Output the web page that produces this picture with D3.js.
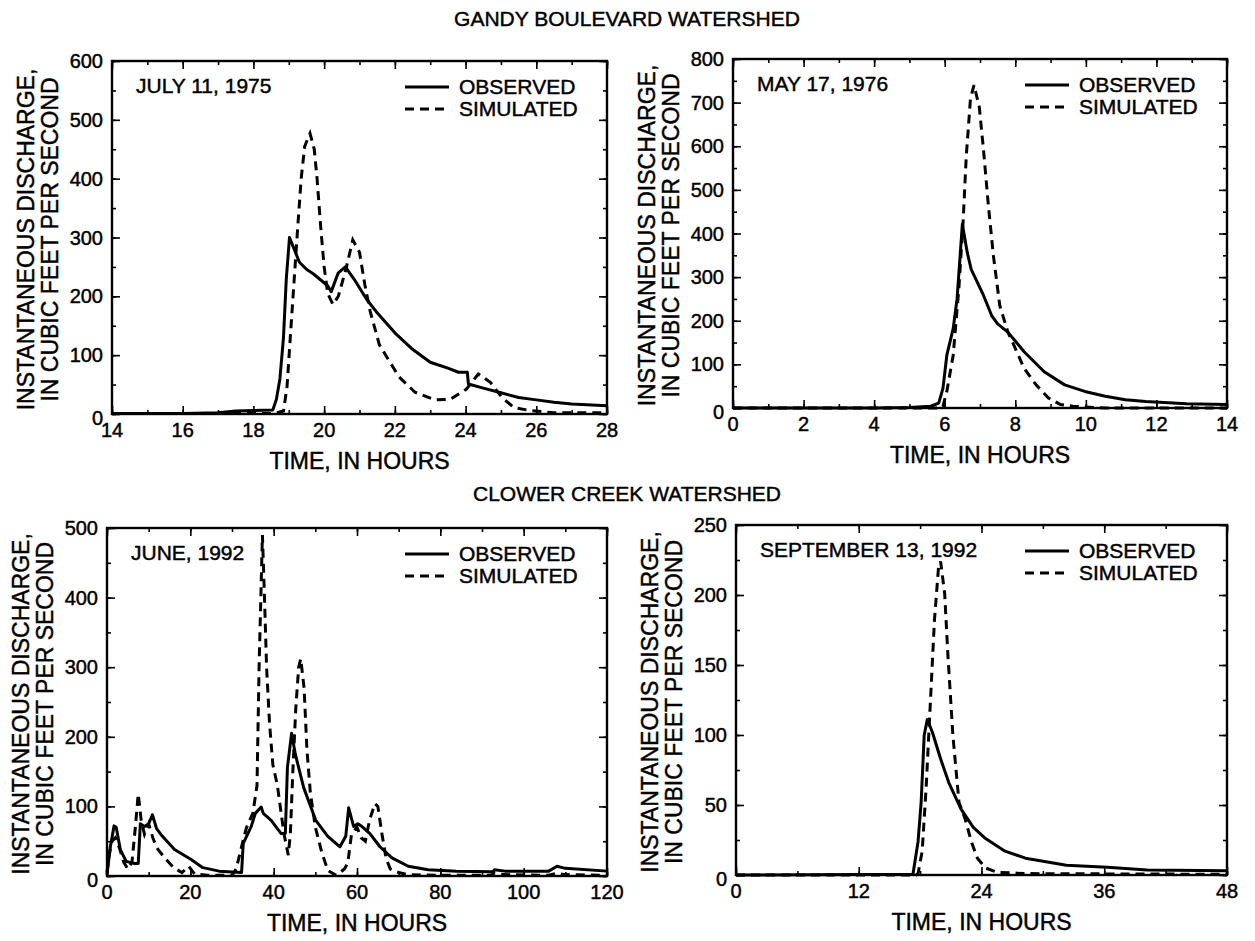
<!DOCTYPE html>
<html lang="en">
<head>
  <meta charset="UTF-8" />
  <title>Observed and simulated discharge</title>
  <script src="https://d3js.org/d3.v7.min.js"></script>
  <style>
    body { margin: 0; background: #fff; }
    text { font-family: "Liberation Sans", Arial, Helvetica, sans-serif; fill: #000; stroke: #000; stroke-width: 0.45px; }
  </style>
</head>
<body>
  <svg width="1255" height="941"></svg>
  <script>
    // [hour, cubic feet per second]
    const julyObserved = [[14,1],[16,1],[17,2],[17.5,5],[18,6],[18.55,7],[18.65,25],[18.75,60],[18.85,130],[18.93,230],[19.02,300],[19.3,258],[19.5,246],[19.7,238],[20.1,218],[20.2,208],[20.4,240],[20.6,250],[20.85,229],[21.2,195],[21.5,172],[22,138],[22.5,110],[23,88],[23.5,78],[23.8,71],[24.05,71],[24.08,51],[24.5,44],[25,36],[25.5,28],[26,24],[26.5,20],[27,17],[28,14]];
    const julySimulated = [[14,1],[18.6,1],[18.85,5],[18.95,46],[19.07,155],[19.16,235],[19.25,315],[19.35,400],[19.45,455],[19.6,477],[19.72,450],[19.8,400],[19.9,320],[20,250],[20.1,205],[20.25,186],[20.4,200],[20.62,247],[20.81,296],[21,275],[21.15,220],[21.3,175],[21.56,118],[21.84,90],[22.12,63],[22.57,37],[23.13,24],[23.57,25],[24.02,42],[24.36,68],[24.7,54],[25.03,28],[25.37,11],[25.81,6],[26.5,2],[28,2]];

    const mayObserved = [[0,0],[4,0],[5,1],[5.6,4],[5.83,11],[5.95,45],[6.06,121],[6.24,182],[6.35,250],[6.5,421],[6.64,356],[6.75,318],[7.1,258],[7.33,212],[7.5,193],[7.79,174],[8.25,129],[8.82,83],[9.4,53],[9.97,38],[10.55,27],[11.12,19],[11.7,15],[12.85,10],[14,8]];
    const maySimulated = [[0,0],[5.9,0],[5.95,4],[6.06,38],[6.24,121],[6.4,273],[6.52,425],[6.61,576],[6.73,709],[6.83,740],[6.98,690],[7.1,591],[7.24,462],[7.38,349],[7.56,235],[7.79,174],[7.96,144],[8.25,91],[8.59,53],[8.94,23],[9.28,8],[9.63,4],[10.55,0],[14,0]];

    const juneObserved = [[0,2],[0.8,42],[1.7,72],[2.2,70],[3.2,38],[4.6,21],[6.6,18],[7.5,18],[8,75],[9,71],[10,75],[10.9,88],[11.9,68],[13.3,57],[16.2,38],[18.2,31],[20.1,24],[23,12],[26.9,7],[32.3,5],[32.7,47],[34.6,71],[35.6,90],[37,99],[37.5,90],[39.4,80],[41.8,61],[42.8,61],[43.3,156],[44.3,205],[45.2,175],[47.2,127],[50.1,80],[53,57],[55.9,42],[57.3,57],[58,98],[59.2,71],[60.2,75],[61.2,71],[63.1,61],[65.5,42],[68.4,26],[72.3,14],[77.1,9],[83.9,7],[92.6,6],[93,9],[95.5,7],[106,7],[108,14],[110,11],[120,7]];
    const juneSimulated = [[0,5],[0.5,30],[1.2,50],[2,55],[3,40],[4,20],[5,10],[6,20],[6.8,70],[7.5,118],[8.2,80],[9,60],[10,75],[11,55],[12,40],[14,25],[16,12],[18,5],[19.6,14],[21,3],[24,1],[30,1],[31,10],[32.7,52],[33.5,70],[35,90],[36,130],[36.5,300],[37.3,490],[37.8,400],[38.3,300],[39,220],[39.8,160],[40.9,130],[41.8,90],[42.5,60],[43.5,30],[44,60],[44.6,150],[45.3,240],[46,300],[46.5,312],[47.3,270],[48,180],[48.8,120],[50,70],[51.5,35],[53,8],[55,1],[57,10],[57.8,19],[58.7,61],[60,70],[61,55],[62,50],[63,80],[64.3,104],[65,100],[66,60],[67,25],[68,10],[70,5],[72,2],[80,1],[92,1],[93,4],[95,2],[106,1],[108,4],[110,2],[120,1]];

    const septObserved = [[0,0],[17.3,0.5],[17.8,24],[18.1,52],[18.4,100],[18.7,111],[19.2,102],[20,83],[20.8,66],[22,47],[23.2,34],[24.4,26],[26.3,17],[28.3,12],[32.3,7],[36.3,5.5],[40.2,3.6],[48,3]];
    const septSimulated = [[0,0],[17.6,0],[17.8,1],[18.2,17],[18.6,64],[19,123],[19.4,182],[19.8,220],[20,224],[20.4,201],[20.7,159],[21.2,100],[21.8,52],[22.4,40],[23,24],[23.6,12],[24.4,5],[25.5,2],[28.3,1],[48,0.5]];

    // tick labels
    const julyHours = [14, 16, 18, 20, 22, 24, 26, 28];
    const julyFlows = [0, 100, 200, 300, 400, 500, 600];
    const mayHours = [0, 2, 4, 6, 8, 10, 12, 14];
    const mayFlows = [0, 100, 200, 300, 400, 500, 600, 700, 800];
    const juneHours = [0, 20, 40, 60, 80, 100, 120];
    const juneFlows = [0, 100, 200, 300, 400, 500];
    const septHours = [0, 12, 24, 36, 48];
    const septFlows = [0, 50, 100, 150, 200, 250];

    const svg = d3.select("svg");

    const panels = [
      { L: 112, R: 607, T: 61, B: 414, date: "JULY 11, 1975", hours: julyHours, flows: julyFlows, hStep: 1, fStep: 50, obs: julyObserved, sim: julySimulated },
      { L: 733, R: 1227, T: 59, B: 408, date: "MAY 17, 1976", hours: mayHours, flows: mayFlows, hStep: 1, fStep: 50, obs: mayObserved, sim: maySimulated },
      { L: 107, R: 607, T: 528, B: 876, date: "JUNE, 1992", hours: juneHours, flows: juneFlows, hStep: 10, fStep: 50, obs: juneObserved, sim: juneSimulated },
      { L: 736, R: 1227, T: 525, B: 875, date: "SEPTEMBER 13, 1992", hours: septHours, flows: septFlows, hStep: 6, fStep: 25, obs: septObserved, sim: septSimulated }
    ];

    function drawPanel(p) {
      const x = d3.scaleLinear().domain(d3.extent(p.hours)).range([p.L, p.R]);
      const y = d3.scaleLinear().domain(d3.extent(p.flows)).range([p.B, p.T]);
      const g = svg.append("g");

      const minorX = d3.range(p.hours[0], p.hours[p.hours.length - 1] + 1e-9, p.hStep);
      const minorY = d3.range(0, p.flows[p.flows.length - 1] + 1e-9, p.fStep);

      // inward ticks on all four sides
      const sides = [
        [d3.axisBottom(x), `translate(0,${p.B})`, p.hours, minorX],
        [d3.axisTop(x), `translate(0,${p.T})`, p.hours, minorX],
        [d3.axisLeft(y), `translate(${p.L},0)`, p.flows, minorY],
        [d3.axisRight(y), `translate(${p.R},0)`, p.flows, minorY]
      ];
      sides.forEach(([axis, tr, major, minor]) => {
        [[minor, -4], [major, -8]].forEach(([vals, size]) => {
          const a = g.append("g").attr("transform", tr)
            .call(axis.tickValues(vals).tickSize(size).tickFormat(""));
          a.select(".domain").remove();
          a.selectAll("line").attr("stroke", "#000").attr("stroke-width", 1.6);
        });
      });

      const line = d3.line().x(d => x(d[0])).y(d => y(d[1]));
      g.append("path").datum(p.sim).attr("d", line)
        .attr("fill", "none").attr("stroke", "#000").attr("stroke-width", 3)
        .attr("stroke-dasharray", "9,6");
      g.append("path").datum(p.obs).attr("d", line)
        .attr("fill", "none").attr("stroke", "#000").attr("stroke-width", 3)
        .attr("stroke-linejoin", "round");

      g.append("rect").attr("x", p.L).attr("y", p.T)
        .attr("width", p.R - p.L).attr("height", p.B - p.T)
        .attr("fill", "none").attr("stroke", "#000").attr("stroke-width", 2.4);

      // tick labels
      g.selectAll(".xl").data(p.hours).enter().append("text")
        .attr("x", d => x(d)).attr("y", p.B + 23)
        .attr("text-anchor", "middle").style("font-size", "20px").text(d => d);
      g.selectAll(".yl").data(p.flows).enter().append("text")
        .attr("x", p.L - 9).attr("y", d => y(d) + 7 + (d === 0 ? 4 : 0))
        .attr("text-anchor", "end").style("font-size", "20px").text(d => d);

      // axis titles
      g.append("text").attr("x", (p.L + p.R) / 2).attr("y", p.B + 55)
        .attr("text-anchor", "middle").style("font-size", "23px").text("TIME, IN HOURS");
      const yt = g.append("g")
        .attr("transform", `translate(${p.L - 78},${(p.T + p.B) / 2 + 2}) rotate(-90)`);
      yt.append("text").attr("text-anchor", "middle").style("font-size", "23px")
        .text("INSTANTANEOUS DISCHARGE,");
      yt.append("text").attr("y", 24).attr("text-anchor", "middle").style("font-size", "23px")
        .text("IN CUBIC FEET PER SECOND");

      // date and legend
      g.append("text").attr("x", p.L + 24).attr("y", p.T + 32)
        .style("font-size", "21px").text(p.date);
      [["OBSERVED", null], ["SIMULATED", "9,6"]].forEach(([name, dash], i) => {
        const ly = p.T + 26 + i * 22;
        g.append("line").attr("x1", p.R - 202).attr("x2", p.R - 158)
          .attr("y1", ly).attr("y2", ly)
          .attr("stroke", "#000").attr("stroke-width", 3)
          .attr("stroke-dasharray", dash);
        g.append("text").attr("x", p.R - 148).attr("y", ly + 7)
          .style("font-size", "21px").text(name);
      });
    }

    panels.forEach(drawPanel);

    svg.append("text").attr("x", 627).attr("y", 26).attr("text-anchor", "middle")
      .style("font-size", "21px").text("GANDY BOULEVARD WATERSHED");
    svg.append("text").attr("x", 627).attr("y", 501).attr("text-anchor", "middle")
      .style("font-size", "21px").text("CLOWER CREEK WATERSHED");
  </script>
</body>
</html>
